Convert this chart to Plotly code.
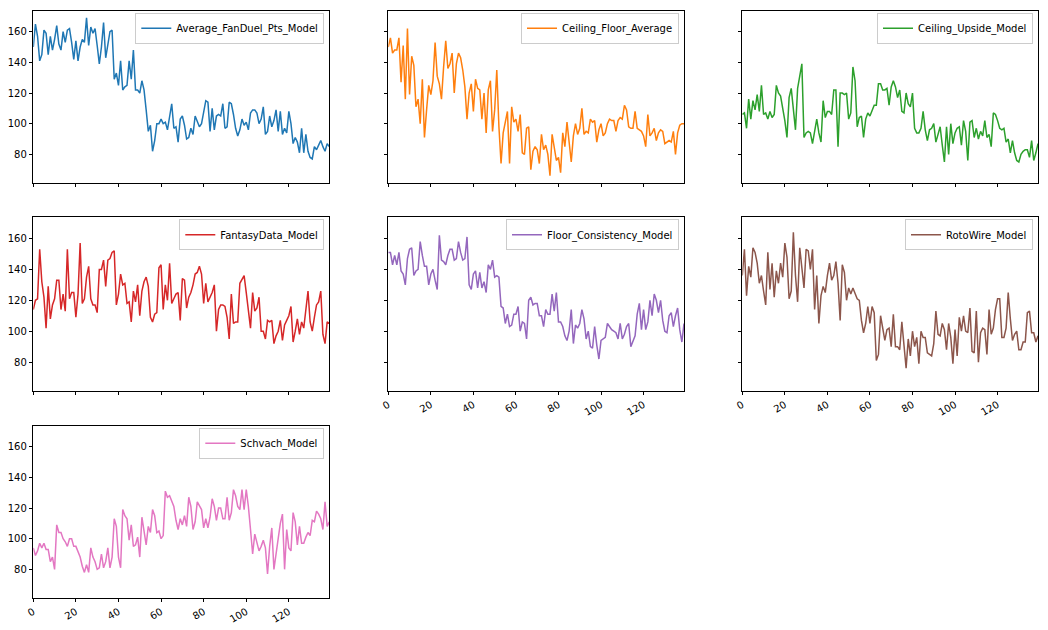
import plotly.graph_objects as go

avg_fanduel = [150,165,157,141,145,161,159,145,157,148,
155,164,152,148,160,153,161,162,153,142,
154,141,150,155,153,169,151,163,159,162,
151,139,150,166,143,153,160,161,129,133,
125,141,122,124,125,141,129,148,122,122,
120,128,122,109,95,99,82,89,100,100,
103,100,101,96,105,113,97,98,88,103,
105,99,90,91,97,93,105,101,98,100,
109,115,114,95,110,96,105,106,105,113,
97,98,114,113,106,97,92,96,103,99,
101,96,107,109,109,107,100,103,111,93,
95,105,98,102,109,95,108,93,97,94,
108,100,87,91,88,81,97,81,93,82,
78,77,85,83,86,89,85,82,87,85]

ceiling_floor = [150,156,146,148,148,156,127,151,116,162,
119,144,138,111,116,100,129,91,109,125,
119,128,153,131,126,116,137,154,136,139,
146,120,139,146,143,135,124,103,120,126,
108,129,123,122,103,120,94,122,128,95,
109,135,98,74,94,102,108,74,111,101,
103,95,106,81,80,97,98,70,82,85,
83,74,93,83,86,80,66,93,85,76,
78,68,94,85,101,89,75,92,100,93,
97,110,93,95,94,103,101,102,88,96,
100,92,94,100,103,102,102,95,102,104,
103,112,109,98,97,97,108,97,96,95,
92,85,106,92,94,97,89,94,96,95,
87,88,89,88,95,80,94,99,100,100]

ceiling_upside = [106,107,97,116,103,115,109,119,108,125,
106,107,103,108,104,106,125,120,118,111,
102,91,117,123,109,96,123,132,139,91,
94,95,94,87,95,103,94,88,115,104,
108,108,106,122,122,85,120,120,119,120,
103,107,137,128,98,104,105,91,103,107,
105,108,112,112,126,126,122,122,123,112,
124,128,124,117,122,108,107,120,113,111,
120,97,94,94,97,108,96,89,96,97,
100,88,94,98,86,75,98,80,100,87,
94,97,98,86,102,95,76,101,102,91,
97,90,95,92,102,91,93,85,107,106,
102,97,96,97,88,90,81,89,81,76,
75,80,82,83,83,78,89,76,81,87]

fantasydata = [114,120,121,153,132,122,102,129,108,117,
121,133,133,114,124,113,153,121,125,125,
109,124,157,118,121,135,142,121,117,117,
112,140,140,146,129,146,147,151,152,117,
124,137,130,131,118,119,106,126,119,130,
110,126,132,135,129,109,106,111,112,141,
143,114,130,120,144,118,121,124,125,107,
134,133,115,122,125,130,137,138,142,137,
118,131,119,122,125,130,100,114,117,117,
116,109,95,124,105,106,106,131,134,136,
125,115,102,125,113,115,122,100,100,95,
107,106,107,92,97,100,107,94,104,107,
110,116,93,100,108,98,106,102,116,126,
106,100,109,117,119,126,98,92,106,105]

floor_consistency = [151,151,143,149,143,151,139,137,130,147,
153,154,136,139,140,158,149,142,142,130,
137,140,133,127,162,146,145,143,149,153,
153,146,147,158,151,146,147,161,130,127,
137,139,128,138,128,132,125,143,140,146,
135,136,135,116,115,105,111,103,104,111,
111,116,100,106,105,95,120,122,117,118,
118,110,110,103,114,111,111,124,113,125,
106,106,103,97,94,100,114,92,104,102,
105,114,108,95,100,90,89,103,91,82,
94,95,96,105,103,101,100,99,95,105,
95,98,103,105,90,94,97,111,118,101,
114,101,106,120,110,124,120,112,120,107,
100,99,110,112,103,110,115,101,93,105]

rotowire = [136,153,123,142,135,154,151,144,131,136,
126,117,151,127,144,122,139,131,144,135,
157,148,121,126,164,136,119,154,141,128,
153,152,140,153,114,136,105,123,129,125,
136,144,133,136,145,131,107,143,138,120,
128,124,128,124,121,120,107,99,105,116,
105,116,112,81,85,110,101,94,101,102,
90,111,90,90,88,106,91,76,95,84,
100,90,96,79,100,96,96,86,85,84,
92,113,98,97,105,101,88,105,96,79,
101,84,109,100,110,100,99,115,87,86,
113,80,99,102,101,85,114,98,102,114,
121,121,96,96,102,125,108,94,98,100,
88,88,93,93,112,113,99,99,93,97]

schvach = [94,89,92,97,94,97,93,93,85,88,
80,109,104,104,100,98,95,100,100,95,
95,92,88,82,78,83,78,94,88,85,
80,81,90,81,85,94,81,88,113,108,
88,81,119,115,113,99,109,95,96,101,
88,114,104,96,108,104,119,115,104,105,
100,102,131,127,128,125,121,112,106,113,
109,115,108,127,121,106,111,124,121,119,
107,113,107,114,126,121,112,120,120,113,
113,127,112,117,132,128,121,119,132,119,
132,121,106,90,103,97,92,95,99,94,
77,95,107,80,92,100,110,116,80,106,
94,92,117,111,96,108,97,97,101,104,
102,112,111,118,116,113,106,124,108,111]

series_names = ["Average_FanDuel_Pts_Model", "Ceiling_Floor_Average", "Ceiling_Upside_Model",
                "FantasyData_Model", "Floor_Consistency_Model", "RotoWire_Model", "Schvach_Model"]
series_values = [avg_fanduel, ceiling_floor, ceiling_upside, fantasydata,
                 floor_consistency, rotowire, schvach]
colors = ["#1f77b4", "#ff7f0e", "#2ca02c", "#d62728", "#9467bd", "#8c564b", "#e377c2"]

x_ticks = [0, 20, 40, 60, 80, 100, 120]
y_ticks = [80, 100, 120, 140, 160]

# page offset of the plot div (default body margin)
OFF = 8
W, H = 1048 - OFF, 630 - OFF
col_px = [(33.3, 329.3), (388.3, 684.0), (742.3, 1038.0)]
row_px = [(10.7, 182.7), (217.3, 390.7), (425.7, 597.7)]
cells = [(0, 0), (0, 1), (0, 2), (1, 0), (1, 1), (1, 2), (2, 0)]
xlabel_cells = {4, 5, 6}

FONT = "DejaVu Sans"
fig = go.Figure()
layout = dict(width=W, height=H, margin=dict(l=0, r=0, t=0, b=0),
              paper_bgcolor="white", plot_bgcolor="white",
              font=dict(family=FONT, size=10, color="#000000"), showlegend=True)

for i, (name, vals) in enumerate(zip(series_names, series_values)):
    r, c = cells[i]
    k = "" if i == 0 else str(i + 1)
    xs = list(range(len(vals)))
    fig.add_trace(go.Scatter(x=xs, y=vals, mode="lines", name=name,
                             line=dict(color=colors[i], width=1.5),
                             xaxis="x" + k, yaxis="y" + k,
                             legend="legend" + k))
    x0, x1 = (v - OFF for v in col_px[c])
    y0, y1 = (v - OFF for v in row_px[r])
    xd = [x0 / W, x1 / W]
    yd = [1 - y1 / H, 1 - y0 / H]
    common = dict(showline=True, linecolor="black", linewidth=1, mirror=True,
                  ticks="outside", ticklen=3.5, tickwidth=1, tickcolor="black",
                  showgrid=False, zeroline=False, automargin=False,
                  tickfont=dict(family=FONT, size=10, color="#000000"))
    layout["xaxis" + k] = dict(common, domain=xd, range=[0, 139], tickmode="array",
                               tickvals=x_ticks, ticktext=[str(t) for t in x_ticks],
                               showticklabels=(i in xlabel_cells), tickangle=-30,
                               anchor="y" + k)
    layout["yaxis" + k] = dict(common, domain=yd, range=[61.5, 173.7], tickmode="array",
                               tickvals=y_ticks, ticktext=[str(t) for t in y_ticks],
                               showticklabels=(c == 0), anchor="x" + k)
    layout["legend" + k] = dict(x=(x1 - 5) / W, y=1 - (y0 + 2) / H, xanchor="right", yanchor="top",
                                bgcolor="rgba(255,255,255,0.8)", bordercolor="#cccccc",
                                borderwidth=1, font=dict(family=FONT, size=10, color="#000000"),
                                itemwidth=30)

fig.update_layout(**layout)
fig.write_html("out.html")
